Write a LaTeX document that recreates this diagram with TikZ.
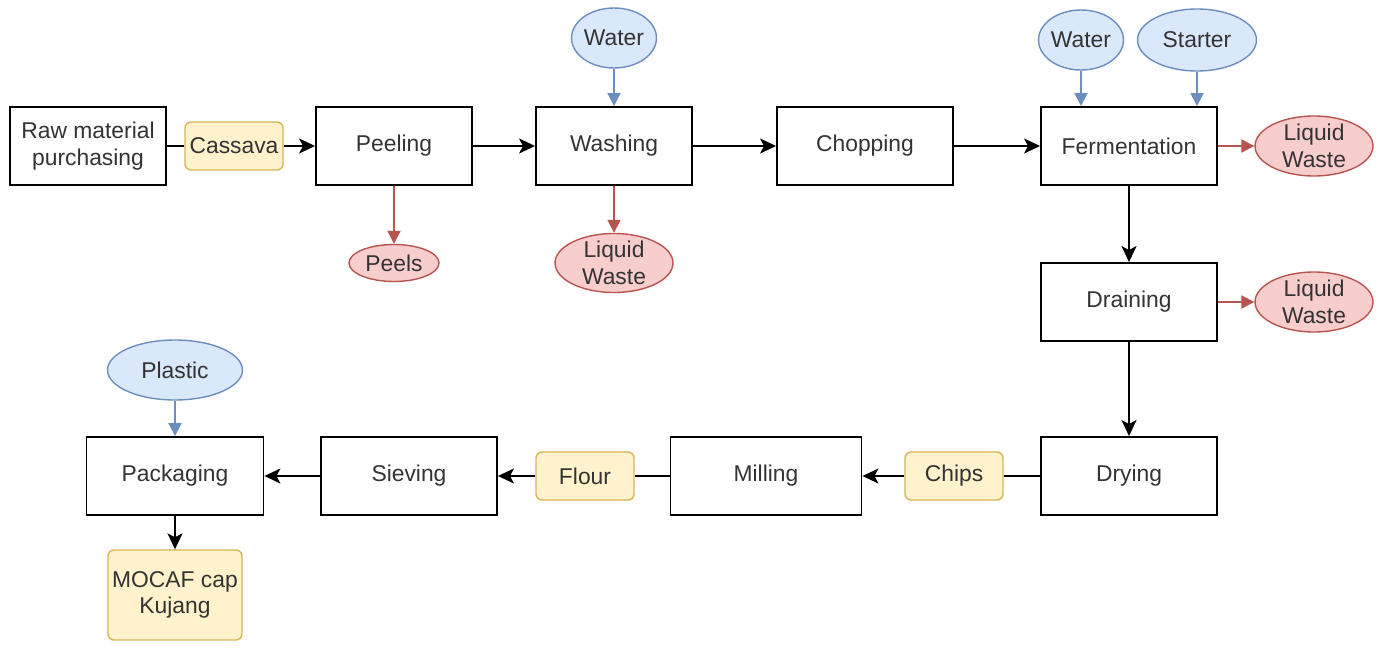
\documentclass[tikz,border=0pt]{standalone}
\usepackage{fontspec}
\setmainfont{Liberation Sans}
\usepackage{tikz}
\usetikzlibrary{arrows.meta}
\usetikzlibrary{shapes.geometric}

\definecolor{textgray}{HTML}{333333}
\definecolor{bluefill}{HTML}{DAE8FC}
\definecolor{blueline}{HTML}{6C8EBF}
\definecolor{redfill}{HTML}{F8CECC}
\definecolor{redline}{HTML}{B85450}
\definecolor{yellowfill}{HTML}{FFF2CC}
\definecolor{yellowline}{HTML}{D6B656}

\begin{document}
\begin{tikzpicture}[x=0.02cm, y=-0.02cm,
    font=\fontsize{13}{15}\selectfont, text=textgray,
    process/.style={draw=black, line width=1.1pt, minimum height=1.56cm, align=center, inner sep=0pt},
    goods/.style={draw=yellowline, fill=yellowfill, line width=0.8pt, rounded corners=0.12cm, align=center, inner sep=0pt},
    inflow/.style={ellipse, draw=blueline, fill=bluefill, line width=0.8pt, inner sep=0pt},
    outflow/.style={ellipse, draw=redline, fill=redfill, line width=0.8pt, inner sep=0pt, align=center},
    flow/.style={-{Stealth[length=0.32cm, width=0.3cm, inset=0.08cm]}, line width=1.1pt},
    inarrow/.style={-{Triangle[length=0.26cm, width=0.26cm]}, draw=blueline, line width=1.1pt},
    outarrow/.style={-{Triangle[length=0.26cm, width=0.26cm]}, draw=redline, line width=1.1pt}]
    \useasboundingbox (0,0) rectangle (1378,649);

    \node[process, minimum width=3.12cm] (raw) at (88,146) {Raw material\\purchasing};
    \node[goods, minimum width=1.96cm, minimum height=0.96cm] (cassava) at (234,146) {Cassava};
    \node[process, minimum width=3.12cm] (peeling) at (394,146) {Peeling};
    \node[process, minimum width=3.12cm] (washing) at (614,146) {Washing};
    \node[process, minimum width=3.52cm] (chopping) at (865,146) {Chopping};
    \node[process, minimum width=3.52cm] (ferm) at (1129,146) {Fermentation};
    \node[process, minimum width=3.52cm] (drain) at (1129,302) {Draining};
    \node[process, minimum width=3.52cm] (dry) at (1129,476) {Drying};
    \node[goods, minimum width=1.96cm, minimum height=0.96cm] (chips) at (954,476) {Chips};
    \node[process, minimum width=3.82cm] (mill) at (766,476) {Milling};
    \node[goods, minimum width=1.96cm, minimum height=0.96cm] (flour) at (585,476) {Flour};
    \node[process, minimum width=3.52cm] (sieve) at (409,476) {Sieving};
    \node[process, minimum width=3.54cm] (pack) at (175,476) {Packaging};
    \node[goods, minimum width=2.68cm, minimum height=1.8cm] (mocaf) at (175,595) {MOCAF cap\\Kujang};

    \node[inflow, minimum width=1.6cm, minimum height=1.2cm] (water1) at (614,38) {Water};
    \node[inflow, minimum width=1.64cm, minimum height=1.2cm] (water2) at (1081,40) {Water};
    \node[inflow, minimum width=2.38cm, minimum height=1.24cm] (starter) at (1197,40) {Starter};
    \node[inflow, minimum width=2.7cm, minimum height=1.2cm] (plastic) at (175,370) {Plastic};

    \node[outflow, minimum width=1.8cm, minimum height=0.74cm] (peels) at (394,263) {Peels};
    \node[outflow, inner ysep=-2pt, minimum width=2.36cm, minimum height=1.18cm] (waste1) at (614,263) {Liquid\\Waste};
    \node[outflow, inner ysep=-2pt, minimum width=2.36cm, minimum height=1.2cm] (waste2) at (1314,146) {Liquid\\Waste};
    \node[outflow, inner ysep=-2pt, minimum width=2.36cm, minimum height=1.2cm] (waste3) at (1314,302) {Liquid\\Waste};

    \draw[line width=1.1pt] (raw) -- (cassava);
    \draw[flow] (cassava) -- (peeling);
    \draw[flow] (peeling) -- (washing);
    \draw[flow] (washing) -- (chopping);
    \draw[flow] (chopping) -- (ferm);
    \draw[flow] (ferm) -- (drain);
    \draw[flow] (drain) -- (dry);
    \draw[line width=1.1pt] (dry) -- (chips);
    \draw[flow] (chips) -- (mill);
    \draw[line width=1.1pt] (mill) -- (flour);
    \draw[flow] (flour) -- (sieve);
    \draw[flow] (sieve) -- (pack);
    \draw[flow] (pack) -- (mocaf);

    \draw[inarrow] (water1) -- (washing);
    \draw[inarrow] (water2) -- (water2 |- ferm.north);
    \draw[inarrow] (starter) -- (starter |- ferm.north);
    \draw[inarrow] (plastic) -- (pack);

    \draw[outarrow] (peeling) -- (peels);
    \draw[outarrow] (washing) -- (waste1);
    \draw[outarrow] (ferm) -- (waste2);
    \draw[outarrow] (drain) -- (waste3);
\end{tikzpicture}
\end{document}
